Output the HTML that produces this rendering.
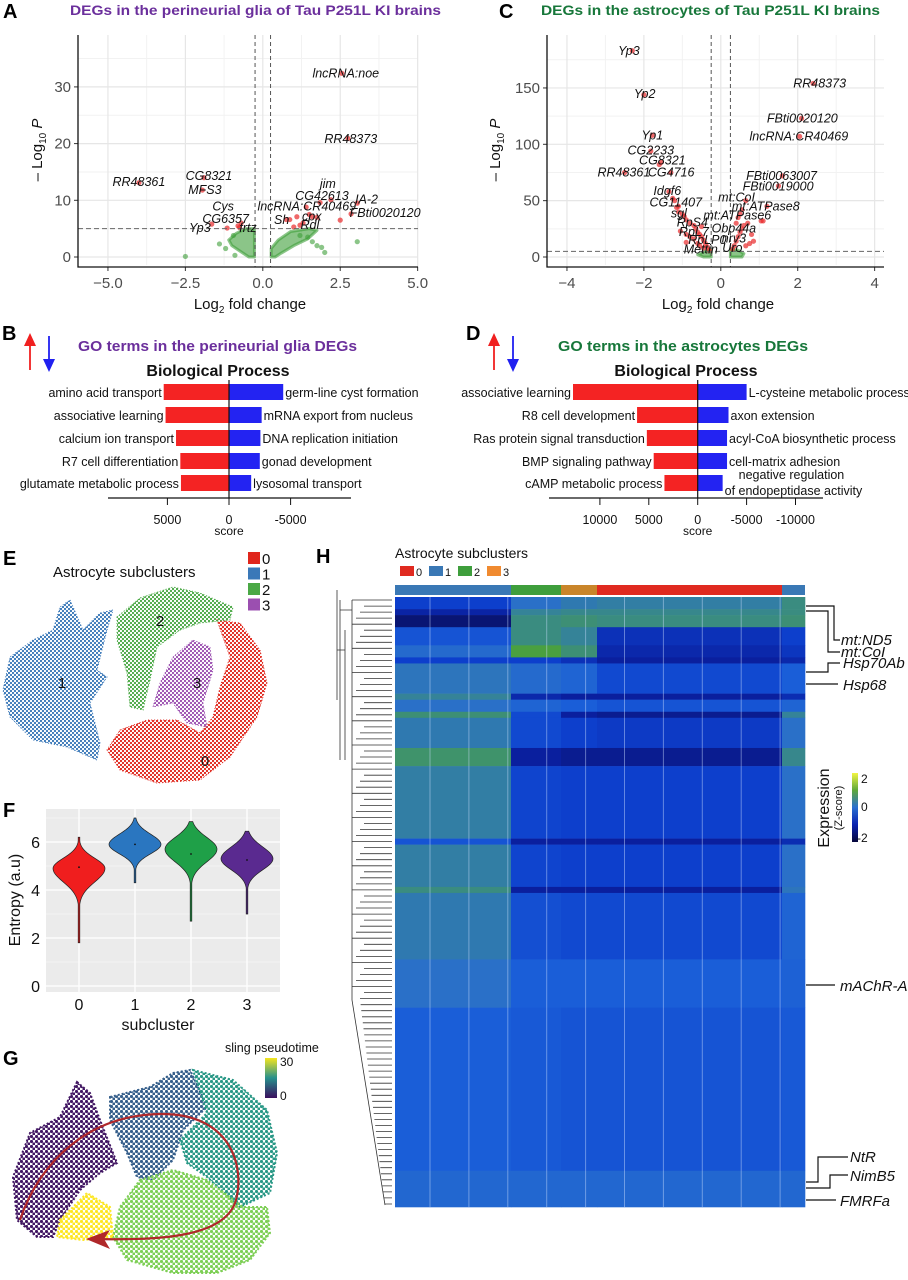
<!DOCTYPE html>
<html><head><meta charset="utf-8"><title>Astrocyte figure</title>
<style>
html,body{margin:0;padding:0;background:#fff;}
svg{display:block;font-family:"Liberation Sans",Arial,sans-serif;}
.tk{font-size:15px;fill:#4d4d4d;}
.lab{font-size:12.5px;fill:#111;}
.gl{font-size:12.5px;fill:#111;font-style:italic;}
.pl{font-weight:bold;font-size:20px;fill:#000;}
</style></head>
<body>
<svg id="fig" width="908" height="1280" viewBox="0 0 908 1280">
<defs>
  <pattern id="pr" width="4" height="4" patternUnits="userSpaceOnUse"><circle cx="1" cy="1" r="1.15" fill="#e0261c"/><circle cx="3" cy="3" r="1.15" fill="#e0261c"/></pattern>
  <pattern id="pb" width="4" height="4" patternUnits="userSpaceOnUse"><circle cx="1" cy="1" r="1.15" fill="#3a78b8"/><circle cx="3" cy="3" r="1.15" fill="#3a78b8"/></pattern>
  <pattern id="pg" width="4" height="4" patternUnits="userSpaceOnUse"><circle cx="1" cy="1" r="1.15" fill="#4aa845"/><circle cx="3" cy="3" r="1.15" fill="#4aa845"/></pattern>
  <pattern id="pp" width="4" height="4" patternUnits="userSpaceOnUse"><circle cx="1" cy="1" r="1.15" fill="#9b4fb0"/><circle cx="3" cy="3" r="1.15" fill="#9b4fb0"/></pattern>
  <linearGradient id="zgrad" x1="0" y1="0" x2="0" y2="1">
    <stop offset="0" stop-color="#f2f542"/><stop offset="0.25" stop-color="#5fa83a"/><stop offset="0.5" stop-color="#2a6fd0"/><stop offset="0.75" stop-color="#0a22b0"/><stop offset="1" stop-color="#06063a"/>
  </linearGradient>
  <linearGradient id="vgrad" x1="0" y1="0" x2="0" y2="1">
    <stop offset="0" stop-color="#f4e51e"/><stop offset="0.5" stop-color="#27908c"/><stop offset="1" stop-color="#3a0f5e"/>
  </linearGradient>
</defs>
<rect width="908" height="1280" fill="#fff"/>

<!-- Panel A -->
<text x="3" y="18" class="pl">A</text>
<text x="70" y="15" font-size="14" font-weight="bold" fill="#6b2f9c" textLength="371" lengthAdjust="spacingAndGlyphs">DEGs in the perineurial glia of Tau P251L KI brains</text>
<g id="gA"></g>
<text x="250" y="309" font-size="15" fill="#111" text-anchor="middle">Log<tspan font-size="10" dy="4">2</tspan><tspan dy="-4"> fold change</tspan></text>
<text transform="translate(42,150) rotate(-90)" font-size="15" fill="#111" text-anchor="middle">– Log<tspan font-size="10" dy="4">10</tspan><tspan dy="-4" font-style="italic"> P</tspan></text>

<!-- Panel C -->
<text x="499" y="18" class="pl">C</text>
<text x="541" y="15" font-size="14" font-weight="bold" fill="#17773a" textLength="339" lengthAdjust="spacingAndGlyphs">DEGs in the astrocytes of Tau P251L KI brains</text>
<g id="gC"></g>
<text x="718" y="309" font-size="15" fill="#111" text-anchor="middle">Log<tspan font-size="10" dy="4">2</tspan><tspan dy="-4"> fold change</tspan></text>
<text transform="translate(500,150) rotate(-90)" font-size="15" fill="#111" text-anchor="middle">– Log<tspan font-size="10" dy="4">10</tspan><tspan dy="-4" font-style="italic"> P</tspan></text>

<!-- Panel B -->
<text x="2" y="340" class="pl">B</text>
<g><line x1="30" y1="370" x2="30" y2="343" stroke="#f02020" stroke-width="1.8"/><polygon points="24,346 36,346 30,333" fill="#f02020"/></g>
<g><line x1="49" y1="336" x2="49" y2="362" stroke="#2020f0" stroke-width="1.8"/><polygon points="43,359 55,359 49,372" fill="#2020f0"/></g>
<text x="78" y="351" font-size="14.5" font-weight="bold" fill="#6b2f9c" textLength="279" lengthAdjust="spacingAndGlyphs">GO terms in the perineurial glia DEGs</text>
<text x="218" y="376" font-size="16" font-weight="bold" fill="#111" text-anchor="middle">Biological Process</text>
<g id="gB"></g>

<!-- Panel D -->
<text x="466" y="340" class="pl">D</text>
<g><line x1="494" y1="370" x2="494" y2="343" stroke="#f02020" stroke-width="1.8"/><polygon points="488,346 500,346 494,333" fill="#f02020"/></g>
<g><line x1="513" y1="336" x2="513" y2="362" stroke="#2020f0" stroke-width="1.8"/><polygon points="507,359 519,359 513,372" fill="#2020f0"/></g>
<text x="558" y="351" font-size="14.5" font-weight="bold" fill="#17773a" textLength="250" lengthAdjust="spacingAndGlyphs">GO terms in the astrocytes DEGs</text>
<text x="686" y="376" font-size="16" font-weight="bold" fill="#111" text-anchor="middle">Biological Process</text>
<g id="gD"></g>

<!-- Panel E -->
<text x="3" y="565" class="pl">E</text>
<text x="53" y="577" font-size="15" fill="#111">Astrocyte subclusters</text>
<g id="gE"></g>

<!-- Panel F -->
<text x="3" y="817" class="pl">F</text>
<g id="gF"></g>
<text x="158" y="1030" font-size="16" fill="#111" text-anchor="middle">subcluster</text>
<text transform="translate(20,900) rotate(-90)" font-size="16" fill="#111" text-anchor="middle">Entropy (a.u)</text>

<!-- Panel G -->
<text x="3" y="1065" class="pl">G</text>
<g id="gG"></g>
<text x="225" y="1052" font-size="12.5" fill="#111">sling pseudotime</text>
<rect x="265" y="1058" width="12" height="40" fill="url(#vgrad)"/>
<text x="280" y="1066" font-size="12" fill="#111">30</text>
<text x="280" y="1100" font-size="12" fill="#111">0</text>

<!-- Panel H -->
<text x="316" y="563" class="pl">H</text>
<text x="395" y="558" font-size="14" fill="#111">Astrocyte subclusters</text>
<g id="gH"></g>
<g>
  <rect x="852" y="773" width="6" height="69" fill="url(#zgrad)"/>
  <text x="861" y="783" font-size="12" fill="#111">2</text>
  <text x="861" y="811" font-size="12" fill="#111">0</text>
  <text x="857" y="842" font-size="12" fill="#111">-2</text>
  <text transform="translate(829,808) rotate(-90)" font-size="16" fill="#111" text-anchor="middle">Expression</text>
  <text transform="translate(842,808) rotate(-90)" font-size="11" fill="#111" text-anchor="middle">(Z-score)</text>
</g>
<g fill="none" stroke="#111" stroke-width="1.2">
  <path d="M806,606 H834 V640 H840"/><path d="M806,611 H828 V652 H840"/>
  <path d="M806,672 H828 V663 H840"/><path d="M806,684 H838"/>
  <path d="M806,985 H835"/>
  <path d="M806,1182 H818 V1157 H848"/><path d="M806,1188 H830 V1175 H848"/><path d="M806,1200 H836"/>
</g>
<g font-size="15" font-style="italic" fill="#111">
  <text x="841" y="645">mt:ND5</text>
  <text x="841" y="657">mt:CoI</text>
  <text x="843" y="668">Hsp70Ab</text>
  <text x="843" y="690">Hsp68</text>
  <text x="840" y="991">mAChR-A</text>
  <text x="850" y="1162">NtR</text>
  <text x="850" y="1181">NimB5</text>
  <text x="840" y="1206">FMRFa</text>
</g>
</svg>

<script>
const NS = 'http://www.w3.org/2000/svg';
function mk(tag, parent){ const e=document.createElementNS(NS,tag); parent.appendChild(e); return e; }

/* ===== Panel A data ===== */
const aLabels = ['lncRNA:noe','RR48373','RR48361','CG8321','MFS3','Cys','CG6357','Yp3','frtz','jim','CG42613','IA-2','FBti0020120','lncRNA:CR40469','Sh','cpx','Rdl'];
const aLabelX = [2.68,2.84,-4.0,-1.74,-1.87,-1.28,-1.2,-2.03,-0.48,2.1,1.91,3.35,3.95,1.42,0.61,1.58,1.52];
const aLabelY = [32.4,20.8,13.2,14.3,11.8,8.9,6.7,5.1,5.1,12.9,10.8,10.1,7.8,8.9,6.5,7.1,5.6];
const aRedX = [2.55,2.75,-4.0,-1.9,-1.95,-1.65,-1.15,-0.8,-0.75,-0.7,0.76,0.87,1.1,1.5,1.6,1.75,1.85,2.2,2.5,2.85,3.05,1.0,1.4,1.3,1.2];
const aRedY = [32.4,20.9,13.1,14.0,11.8,5.8,5.1,5.5,5.2,6.0,6.6,6.6,7.1,7.5,7.1,7.0,9.6,10.1,6.5,7.6,9.5,5.3,8.8,6.0,5.6];
const aGreenX = [-2.5,-1.4,-0.9,3.05,1.9,1.6,1.75,1.2,-1.2,-0.95,2.0,1.45];
const aGreenY = [0.1,2.3,0.3,2.7,1.7,2.7,2.0,3.8,1.5,3.8,0.8,3.5];
const aCloudL = [[-0.27,0],[-0.27,5],[-0.55,5],[-0.85,4.2],[-1.1,3],[-1.0,2],[-0.7,0.9],[-0.45,0]];
const aCloudR = [[0.27,0],[0.27,1.5],[0.5,3],[0.9,4.5],[1.5,5],[1.75,4.7],[1.45,3.2],[1.0,2],[0.6,0.7],[0.4,0]];
const aXTicks = [-5,-2.5,0,2.5,5];
const aXTickLabels = ['−5.0','−2.5','0.0','2.5','5.0'];
const aYTicks = [0,10,20,30];

/* ===== Panel C data ===== */
const cLabels = ['Yp3','Yp2','Yp1','CG2233','CG8321','RR48361','CG4716','Idgf6','CG11407','sgl','RpS4','RpL7','RpLP0','Mettin','mt:CoI','mt:ATPase8','mt:ATPase6','Obp44a','nrv3','Uro','RR48373','FBti0020120','lncRNA:CR40469','FBti0063007','FBti0019000'];
const cLabelX = [-2.39,-1.98,-1.78,-1.82,-1.52,-2.52,-1.29,-1.39,-1.17,-1.09,-0.74,-0.7,-0.35,-0.52,0.41,1.17,0.43,0.34,0.34,0.3,2.57,2.12,2.03,1.58,1.49];
const cLabelY = [183,144.6,108,94.3,85.5,75,75,58.6,48.5,38.8,30.5,22,15,6.8,53,44.6,36.7,25.4,16.6,8,154,123,106.7,71.9,62.4];
const cRedX = [-2.3,-2.0,-1.78,-1.82,-1.6,-1.55,-2.5,-1.3,-1.35,-1.2,-1.1,-0.3,-0.35,-0.4,-0.45,-0.5,-0.55,-0.6,-0.65,-0.5,-0.7,-0.8,-0.9,-0.95,-1.0,-1.1,-1.15,-0.6,-0.7,-0.8,-0.9,-0.45,-0.55,-1.05,-0.9,-1.25,0.3,0.35,0.4,0.45,0.5,0.55,0.6,0.7,0.8,0.75,0.85,0.65,1.05,1.1,0.45,0.5,0.55,0.65,0.4,1.2,2.4,2.1,2.05,1.6,1.5];
const cRedY = [183,144,108,94,82,84,75,75,58,50,45,6,9,12,15,18,20,22,25,27,28,30,33,36,38,40,44,12,16,18,20,8,10,23,13,52,7,10,14,18,22,25,28,30,20,12,14,10,32,32,35,38,42,50,30,45,154,123,107,72,63];
const cCloudL = [[-0.25,0],[-0.25,7],[-0.42,5],[-0.6,2],[-0.45,0]];
const cCloudR = [[0.25,0],[0.25,7],[0.45,6],[0.6,3],[0.55,0]];
const cXTicks = [-4,-2,0,2,4];
const cXTickLabels = ['−4','−2','0','2','4'];
const cYTicks = [0,50,100,150];

function ax(x){ return 262.8 + 30.97*x; }
function ay(y){ return 257 - 5.67*y; }
function cxs(x){ return 720.8 + 38.46*x; }
function cys(y){ return 257 - 1.127*y; }

function volcano(g, sx, sy, xT, xTL, yT, xMinor, yMinor, cloudL, cloudR, gX, gY, rX, rY, labs, lX, lY, left, right, tag){
  const x0=left, x1=right, y0=35, y1=267;
  xMinor.forEach(v=>{ const l=mk('line',g); l.setAttribute('x1',sx(v)); l.setAttribute('x2',sx(v)); l.setAttribute('y1',y0); l.setAttribute('y2',y1-2); l.setAttribute('stroke','#f2f2f2'); l.setAttribute('stroke-width','1');
    
     });
  yMinor.forEach(v=>{ const l=mk('line',g); l.setAttribute('x1',x0); l.setAttribute('x2',x1); l.setAttribute('y1',sy(v)); l.setAttribute('y2',sy(v)); l.setAttribute('stroke','#f2f2f2');
    
     });
  xT.forEach((v,i)=>{ const l=mk('line',g); l.setAttribute('x1',sx(v)); l.setAttribute('x2',sx(v)); l.setAttribute('y1',y0); l.setAttribute('y2',y1); l.setAttribute('stroke','#e6e6e6'); l.setAttribute('stroke-width','1.2');
    
    
    const t=mk('line',g); t.setAttribute('x1',sx(v)); t.setAttribute('x2',sx(v)); t.setAttribute('y1',y1); t.setAttribute('y2',y1+4); t.setAttribute('stroke','#333');
    
    
    const tx=mk('text',g); tx.textContent=xTL[i]; tx.setAttribute('x',sx(v)); tx.setAttribute('y',288); tx.setAttribute('text-anchor','middle'); tx.setAttribute('class','tk');
    
     });
  yT.forEach(v=>{ const l=mk('line',g); l.setAttribute('x1',x0); l.setAttribute('x2',x1); l.setAttribute('y1',sy(v)); l.setAttribute('y2',sy(v)); l.setAttribute('stroke','#e6e6e6'); l.setAttribute('stroke-width','1.2');
    
    
    const t=mk('line',g); t.setAttribute('x1',x0-4); t.setAttribute('x2',x0); t.setAttribute('y1',sy(v)); t.setAttribute('y2',sy(v)); t.setAttribute('stroke','#333');
    
    
    const tx=mk('text',g); tx.textContent=String(v); tx.setAttribute('x',x0-7); tx.setAttribute('y',sy(v)+5); tx.setAttribute('text-anchor','end'); tx.setAttribute('class','tk');
    
     });
  [cloudL,cloudR].forEach(c=>{ const p=mk('polygon',g); p.setAttribute('points',c.map(q=>sx(q[0])+','+sy(q[1])).join(' ')); p.setAttribute('fill','#3e9e38'); p.setAttribute('fill-opacity','0.6'); p.setAttribute('stroke','#3e9e38'); p.setAttribute('stroke-opacity','0.6'); p.setAttribute('stroke-width','3'); p.setAttribute('stroke-linejoin','round');
    
     });
  gX.forEach((v,i)=>{ const c=mk('circle',g); c.setAttribute('cx',sx(v)); c.setAttribute('cy',sy(gY[i])); c.setAttribute('r','2.6'); c.setAttribute('fill','#3e9e38'); c.setAttribute('fill-opacity','0.6');
    
     });
  rX.forEach((v,i)=>{ const c=mk('circle',g); c.setAttribute('cx',sx(v)); c.setAttribute('cy',sy(rY[i])); c.setAttribute('r','2.6'); c.setAttribute('fill','#e8292b'); c.setAttribute('fill-opacity','0.7');
    
     });
  [-0.25,0.25].forEach(v=>{ const l=mk('line',g); l.setAttribute('x1',sx(v)); l.setAttribute('x2',sx(v)); l.setAttribute('y1',y0); l.setAttribute('y2',y1); l.setAttribute('stroke','#555'); l.setAttribute('stroke-dasharray','4,3');
    
     });
  const h=mk('line',g); h.setAttribute('x1',x0); h.setAttribute('x2',x1); h.setAttribute('y1',sy(5)); h.setAttribute('y2',sy(5)); h.setAttribute('stroke','#666'); h.setAttribute('stroke-dasharray','5,3');
  
  
  labs.forEach((s,i)=>{ const t=mk('text',g); t.textContent=s; t.setAttribute('x',sx(lX[i])); t.setAttribute('y',sy(lY[i])+4); t.setAttribute('text-anchor','middle'); t.setAttribute('class','gl');
    
     });
  const axl=mk('path',g); axl.setAttribute('d','M'+x0+','+y0+' V'+y1+' H'+x1); axl.setAttribute('fill','none'); axl.setAttribute('stroke','#111'); axl.setAttribute('stroke-width','1.3');
  
  
}
volcano(document.getElementById('gA'), ax, ay, aXTicks, aXTickLabels, aYTicks, [-3.75,-1.25,1.25,3.75], [5,15,25,35], aCloudL, aCloudR, aGreenX, aGreenY, aRedX, aRedY, aLabels, aLabelX, aLabelY, 78, 418, 'a');
volcano(document.getElementById('gC'), cxs, cys, cXTicks, cXTickLabels, cYTicks, [-3,-1,1,3], [25,75,125,175], cCloudL, cCloudR, [], [], cRedX, cRedY, cLabels, cLabelX, cLabelY, 547, 884, 'c');

/* ===== Panel B / D data ===== */
const bUpTerms = ['amino acid transport','associative learning','calcium ion transport','R7 cell differentiation','glutamate metabolic process'];
const bUpScores = [5300,5150,4300,3950,3900];
const bDownTerms = ['germ-line cyst formation','mRNA export from nucleus','DNA replication initiation','gonad development','lysosomal transport'];
const bDownScores = [-4400,-2650,-2550,-2500,-1800];
const bTicks = [5000,0,-5000];
const dUpTerms = ['associative learning','R8 cell development','Ras protein signal transduction','BMP signaling pathway','cAMP metabolic process'];
const dUpScores = [12750,6200,5200,4500,3400];
const dDownTerms = ['L-cysteine metabolic process','axon extension','acyl-CoA biosynthetic process','cell-matrix adhesion','negative regulation|of endopeptidase activity'];
const dDownScores = [-5000,-3150,-3000,-3000,-2550];
const dTicks = [10000,5000,0,-5000,-10000];

function goChart(g, sc, upT, upS, dnT, dnS, ticks, axX0, axX1, tag){
  const rowY=[392,415,438,461,483];
  upS.forEach((v,i)=>{ const r=mk('rect',g); r.setAttribute('x',sc(v)); r.setAttribute('y',rowY[i]-8); r.setAttribute('width',sc(0)-sc(v)); r.setAttribute('height',16); r.setAttribute('fill','#f42323');
    
    
    const t=mk('text',g); t.textContent=upT[i]; t.setAttribute('x',sc(v)-2); t.setAttribute('y',rowY[i]+5); t.setAttribute('text-anchor','end'); t.setAttribute('class','lab');
    
     });
  dnS.forEach((v,i)=>{ const r=mk('rect',g); r.setAttribute('x',sc(0)); r.setAttribute('y',rowY[i]-8); r.setAttribute('width',sc(v)-sc(0)); r.setAttribute('height',16); r.setAttribute('fill','#2323f2');
    
    
    const parts=dnT[i].split('|');
    parts.forEach((p,k)=>{ const t=mk('text',g); t.textContent=p; t.setAttribute('x',sc(v)+2+(parts.length>1?(k?0:14):0)); t.setAttribute('y',rowY[i]+5+(parts.length>1?(k?7:-9):0)); t.setAttribute('class','lab');
      
       }); });
  const c=mk('line',g); c.setAttribute('x1',sc(0)); c.setAttribute('x2',sc(0)); c.setAttribute('y1',380); c.setAttribute('y2',498); c.setAttribute('stroke','#111'); c.setAttribute('stroke-width','1.2');
  
  
  const a=mk('line',g); a.setAttribute('x1',axX0); a.setAttribute('x2',axX1); a.setAttribute('y1',498); a.setAttribute('y2',498); a.setAttribute('stroke','#111'); a.setAttribute('stroke-width','1.2');
  
  
  ticks.forEach(v=>{ const t=mk('line',g); t.setAttribute('x1',sc(v)); t.setAttribute('x2',sc(v)); t.setAttribute('y1',498); t.setAttribute('y2',505); t.setAttribute('stroke','#111');
    
    
    const tx=mk('text',g); tx.textContent=String(v); tx.setAttribute('x',sc(v)); tx.setAttribute('y',524); tx.setAttribute('text-anchor','middle'); tx.setAttribute('font-size','12.5'); tx.setAttribute('fill','#111');
    
     });
  const s=mk('text',g); s.textContent='score'; s.setAttribute('x',sc(0)); s.setAttribute('y',535); s.setAttribute('text-anchor','middle'); s.setAttribute('font-size','12'); s.setAttribute('fill','#111');
  
  
}
goChart(document.getElementById('gB'), v=>229 - v*61.6/5000, bUpTerms, bUpScores, bDownTerms, bDownScores, bTicks, 108, 351, 'b');
goChart(document.getElementById('gD'), v=>697.7 - v*48.9/5000, dUpTerms, dUpScores, dDownTerms, dDownScores, dTicks, 549, 823, 'd');

/* ===== Panel E ===== */
const eClusters = ['0','1','2','3'];
const eColors = ['#e0261c','#3a78b8','#4aa845','#9b4fb0'];
const eFills = ['url(#pr)','url(#pb)','url(#pg)','url(#pp)'];
const eOutline0 = [[217,620],[240,623],[260,650],[267,683],[257,717],[230,757],[200,780],[157,783],[120,770],[107,750],[120,730],[147,720],[177,720],[200,733],[213,717],[220,687],[230,657]];
const eOutline1 = [[70,600],[83,630],[100,613],[113,610],[107,630],[97,670],[107,677],[90,703],[100,743],[97,760],[67,747],[33,740],[10,717],[3,690],[10,657],[33,640],[53,630],[60,607]];
const eOutline2 = [[117,617],[140,598],[173,587],[200,593],[233,607],[230,620],[200,623],[180,630],[157,647],[150,680],[143,710],[130,707],[127,673],[117,640]];
const eOutline3 = [[173,657],[193,640],[210,647],[213,670],[203,703],[207,727],[187,723],[173,703],[153,707],[160,683]];
const eLabelPos = [[205,766],[62,688],[160,626],[197,688]];
(function(){
  const g=document.getElementById('gE');
  [eOutline0,eOutline1,eOutline2,eOutline3].forEach((o,i)=>{
    const p=mk('polygon',g); p.setAttribute('points',o.map(q=>q.join(',')).join(' ')); p.setAttribute('fill',eFills[i]); p.setAttribute('stroke',eColors[i]); p.setAttribute('stroke-width','1'); p.setAttribute('stroke-dasharray','1,2');
    
    
    const t=mk('text',g); t.textContent=eClusters[i]; t.setAttribute('x',eLabelPos[i][0]); t.setAttribute('y',eLabelPos[i][1]); t.setAttribute('text-anchor','middle'); t.setAttribute('font-size','15'); t.setAttribute('fill','#111');
    
    
    const r=mk('rect',g); r.setAttribute('x',248); r.setAttribute('y',552+i*15.5); r.setAttribute('width',12); r.setAttribute('height',12); r.setAttribute('fill',eColors[i]);
    
    
    const lt=mk('text',g); lt.textContent=eClusters[i]; lt.setAttribute('x',262); lt.setAttribute('y',564+i*15.5); lt.setAttribute('font-size','15'); lt.setAttribute('fill','#111');
    
    
  });
})();

/* ===== Panel F ===== */
const fCats = ['0','1','2','3'];
const fMin = [1.8,4.3,2.7,3.0];
const fMax = [6.2,7.0,6.85,6.45];
const fMode = [4.9,5.9,5.7,5.3];
const fMedian = [4.95,5.9,5.5,5.25];
const fYTicks = [0,2,4,6];
const fColors = ['#f01e1e','#2a76c0','#1fa048','#5a2a90'];
const fShapeUp = [0.6,0.6,0.7,0.7];
const fShapeDown = [0.8,0.55,0.75,0.65];
(function(){
  const g=document.getElementById('gF');
  const fx=i=>79+i*56, fy=v=>986-24*v;
  const bg=mk('rect',g); bg.setAttribute('x',46); bg.setAttribute('y',809); bg.setAttribute('width',234); bg.setAttribute('height',183); bg.setAttribute('fill','#ebebeb');
  
  
  [1,3,5,7].forEach(v=>{ const l=mk('line',g); l.setAttribute('x1',46); l.setAttribute('x2',280); l.setAttribute('y1',fy(v)); l.setAttribute('y2',fy(v)); l.setAttribute('stroke','#f6f6f6'); l.setAttribute('stroke-width','0.7');
    
     });
  fYTicks.forEach(v=>{ const l=mk('line',g); l.setAttribute('x1',46); l.setAttribute('x2',280); l.setAttribute('y1',fy(v)); l.setAttribute('y2',fy(v)); l.setAttribute('stroke','#fff'); l.setAttribute('stroke-width','1.3');
    
    
    const t=mk('text',g); t.textContent=String(v); t.setAttribute('x',40); t.setAttribute('y',fy(v)+6); t.setAttribute('text-anchor','end'); t.setAttribute('font-size','16'); t.setAttribute('fill','#111');
    
     });
  fCats.forEach((c,i)=>{
    const l=mk('line',g); l.setAttribute('x1',fx(i)); l.setAttribute('x2',fx(i)); l.setAttribute('y1',809); l.setAttribute('y2',992); l.setAttribute('stroke','#fff'); l.setAttribute('stroke-width','1.3');
    
    
    const hw=26, N=60, L=[], R=[];
    for(let k=0;k<=N;k++){ const v=fMin[i]+(fMax[i]-fMin[i])*k/N; const s=v>fMode[i]?fShapeUp[i]:fShapeDown[i];
      const w=Math.max(0.8, hw*Math.exp(-Math.pow((v-fMode[i])/s,2))); L.push((fx(i)-w)+','+fy(v)); R.unshift((fx(i)+w)+','+fy(v)); }
    const p=mk('polygon',g); p.setAttribute('points',L.concat(R).join(' ')); p.setAttribute('fill',fColors[i]); p.setAttribute('stroke','#222'); p.setAttribute('stroke-width','0.7');
    
    
    const d=mk('circle',g); d.setAttribute('cx',fx(i)); d.setAttribute('cy',fy(fMedian[i])); d.setAttribute('r','0.9'); d.setAttribute('fill','#111');
    
    
    const t=mk('text',g); t.textContent=c; t.setAttribute('x',fx(i)); t.setAttribute('y',1010); t.setAttribute('text-anchor','middle'); t.setAttribute('font-size','16'); t.setAttribute('fill','#111');
    
    
  });
})();

/* ===== Panel G ===== */
const gRegions = ['early','mid-blue','teal','late-green','latest-yellow'];
const gPseudotime = [2,9,16,24,30];
const gRegion0 = [[77,1082],[90,1093],[100,1120],[117,1163],[100,1173],[80,1190],[60,1220],[53,1237],[37,1237],[17,1220],[13,1177],[30,1133],[60,1117]];
const gRegion1 = [[110,1097],[150,1087],[173,1073],[190,1070],[207,1107],[183,1130],[173,1160],[153,1180],[137,1177],[127,1153],[110,1120]];
const gRegion2 = [[193,1070],[233,1080],[267,1110],[277,1153],[270,1193],[240,1207],[207,1177],[187,1163],[180,1140],[207,1113]];
const gRegion3 = [[140,1180],[173,1170],[207,1180],[243,1207],[267,1207],[270,1233],[250,1260],[217,1273],[173,1273],[127,1260],[113,1237],[120,1207]];
const gRegion4 = [[60,1220],[87,1193],[110,1207],[113,1237],[83,1240],[57,1237]];
function viridis(t){ const s=[[68,1,84],[59,82,139],[33,145,140],[94,201,98],[253,231,37]]; const f=t*(s.length-1); const i=Math.min(s.length-2,Math.floor(f)); const u=f-i; return 'rgb('+s[i].map((c,k)=>Math.round(c+(s[i+1][k]-c)*u)).join(',')+')'; }
(function(){
  const g=document.getElementById('gG'); const defs=document.querySelector('defs');
  [gRegion0,gRegion1,gRegion2,gRegion3,gRegion4].forEach((o,i)=>{
    const col=viridis(gPseudotime[i]/30);
    const pat=mk('pattern',defs); pat.setAttribute('id','gp'+i); pat.setAttribute('width','5'); pat.setAttribute('height','5'); pat.setAttribute('patternUnits','userSpaceOnUse');
    const c1=mk('circle',pat); c1.setAttribute('cx','1.5'); c1.setAttribute('cy','1.5'); c1.setAttribute('r','1.6'); c1.setAttribute('fill',col);
    const c2=mk('circle',pat); c2.setAttribute('cx','4'); c2.setAttribute('cy','4'); c2.setAttribute('r','1.6'); c2.setAttribute('fill',col);
    const p=mk('polygon',g); p.setAttribute('points',o.map(q=>q.join(',')).join(' ')); p.setAttribute('fill','url(#gp'+i+')'); p.setAttribute('stroke',col); p.setAttribute('stroke-width','2'); p.setAttribute('stroke-dasharray','2,2');
    
    
  });
  const tr=mk('path',g); tr.setAttribute('d','M20,1220 C40,1160 90,1115 160,1114 C230,1113 245,1165 236,1200 C225,1240 150,1240 92,1239'); tr.setAttribute('fill','none'); tr.setAttribute('stroke','#b0282a'); tr.setAttribute('stroke-width','2.2');
  
  
  const ah=mk('polygon',g); ah.setAttribute('points','86,1239 110,1230 104,1239 110,1249'); ah.setAttribute('fill','#b0282a');
  
  
})();

/* ===== Panel H heatmap ===== */
const hmClusters = ['1','2','mix','0','1'];
const hmClusterCells = [116,50,36,185,23];
const hmClusterColors = ['#3a78b5','#3e9e3c','#c9852a','#e02a20','#3a78b5'];
const hmBandRows = [2,1,2,3,2,1,5,1,2,1,5,3,12,1,7,1,11,8,27,6];
const hmBandZ = [
 [-0.6,0.0,0.2,0.3,0.6],[-1.2,0.4,0.5,0.5,0.6],[-1.6,0.6,0.7,0.6,0.7],[-0.4,0.6,0.4,-0.9,-0.6],
 [-0.1,1.2,0.7,-1.1,-0.8],[-0.6,-0.6,-0.9,-1.3,-1.1],[0.1,-0.1,-0.2,-0.5,-0.3],[0.4,-1.1,-1.3,-1.3,-1.0],
 [0.0,-0.2,-0.3,-0.4,-0.2],[0.7,-0.5,-1.3,-1.4,0.4],[0.2,-0.5,-0.6,-0.7,0.0],[0.8,-1.3,-1.4,-1.4,0.5],
 [0.3,-0.55,-0.6,-0.6,0.0],[-0.4,-1.3,-1.3,-1.3,-1.0],[0.3,-0.55,-0.6,-0.6,0.0],[0.6,-1.3,-1.3,-1.3,0.1],
 [0.2,-0.45,-0.5,-0.5,-0.2],[0.0,-0.3,-0.3,-0.3,-0.25],[-0.3,-0.35,-0.4,-0.4,-0.35],[-0.15,-0.15,-0.15,-0.15,-0.15]];
function zColor(z){
  const st=[[-2,[8,8,58]],[-1.3,[10,31,158]],[-0.6,[13,63,204]],[-0.3,[26,94,216]],[0,[42,112,200]],[0.6,[58,140,128]],[1.2,[74,160,64]],[2,[232,240,80]]];
  if(z<=st[0][0]) return 'rgb('+st[0][1].join(',')+')';
  for(let i=0;i<st.length-1;i++){ if(z<=st[i+1][0]){ const u=(z-st[i][0])/(st[i+1][0]-st[i][0]); return 'rgb('+st[i][1].map((c,k)=>Math.round(c+(st[i+1][1][k]-c)*u)).join(',')+')'; } }
  return 'rgb('+st[st.length-1][1].join(',')+')';
}
(function(){
  const g=document.getElementById('gH');
  const totalCells=hmClusterCells.reduce((a,b)=>a+b,0);
  const totalRows=hmBandRows.reduce((a,b)=>a+b,0);
  const hx=i=>395+i*410/totalCells, top=597, rowH=(1207-top)/totalRows, hy=r=>top+r*rowH;
  const legC=['0','1','2','3'], legCol=['#e02a20','#3a78b5','#3e9e3c','#f08a30'];
  legC.forEach((c,i)=>{ const r=mk('rect',g); r.setAttribute('x',400+i*29); r.setAttribute('y',566); r.setAttribute('width',14); r.setAttribute('height',10); r.setAttribute('fill',legCol[i]);
    
    
    const t=mk('text',g); t.textContent=c; t.setAttribute('x',416+i*29); t.setAttribute('y',576); t.setAttribute('font-size','11'); t.setAttribute('fill','#111');
    
     });
  let c0=0;
  hmClusterCells.forEach((n,j)=>{
    const a=mk('rect',g); a.setAttribute('x',hx(c0)); a.setAttribute('y',585); a.setAttribute('width',hx(c0+n)-hx(c0)); a.setAttribute('height',10); a.setAttribute('fill',hmClusterColors[j]);
    
    
    let r0=0;
    hmBandRows.forEach((nr,b)=>{
      const cell=mk('rect',g); cell.setAttribute('x',hx(c0)); cell.setAttribute('y',hy(r0)); cell.setAttribute('width',hx(c0+n)-hx(c0)+0.3); cell.setAttribute('height',hy(r0+nr)-hy(r0)+0.3); cell.setAttribute('fill',zColor(hmBandZ[b][j]));
      
      
      r0+=nr; });
    c0+=n;
  });
  for(let k=1;k<=10;k++){ const x=395+k*38.9-3.9; const l=mk('line',g); l.setAttribute('x1',x); l.setAttribute('x2',x); l.setAttribute('y1',597); l.setAttribute('y2',1207); l.setAttribute('stroke','#cfe0ff'); l.setAttribute('stroke-opacity','0.45'); l.setAttribute('stroke-width','1');
    
     }
  let d='';
  for(let r=0;r<totalRows;r++){ const y=hy(r+0.5); let sx;
    if(y<1000) sx = 352 + ((r*7)%4)*4; else sx = 360 + (y-1000)/207*25;
    d+='M'+sx.toFixed(1)+','+y.toFixed(1)+' H392 ';
  }
  d+='M352,600 V1000 L385,1205 M340,600 V760 M337,590 V700 M345,630 V760 M340,610 H352 M337,650 H345';
  const den=mk('path',g); den.setAttribute('d',d); den.setAttribute('fill','none'); den.setAttribute('stroke','#333'); den.setAttribute('stroke-width','0.8');
  
  
})();
</script>
</body></html>
